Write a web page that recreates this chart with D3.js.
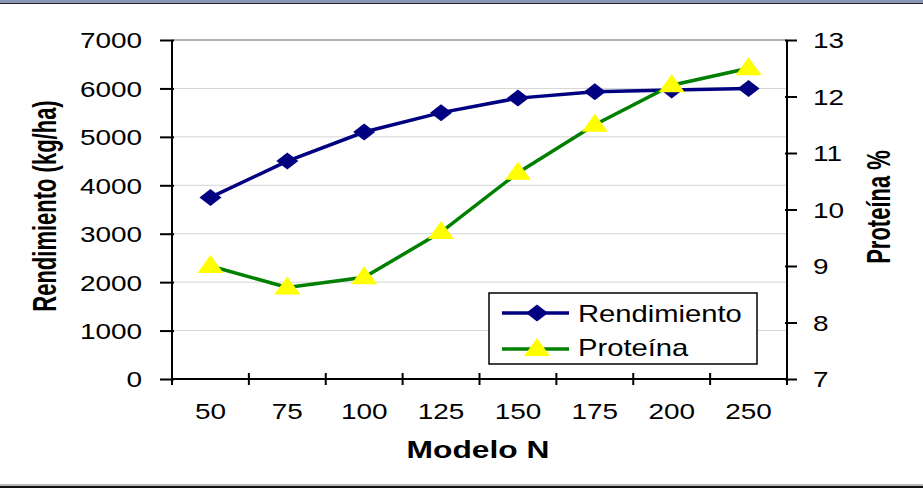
<!DOCTYPE html>
<html>
  <head>
    <script src="https://d3js.org/d3.v7.min.js"></script>
    <style>
      body { margin: 0; background: #fff; }
      text { font-family: "Liberation Sans", Arial, sans-serif; fill: #000; }
    </style>
  </head>
  <body>
    <svg id="chart" width="923" height="488"></svg>
    <script>
      var categories = ["50", "75", "100", "125", "150", "175", "200", "250"];
      var rendimiento = [3750, 4500, 5100, 5500, 5800, 5930, 5970, 6000];
      var proteina = [9.0, 8.62, 8.8, 9.6, 10.65, 11.5, 12.2, 12.5];
      var leftTicks = [0, 1000, 2000, 3000, 4000, 5000, 6000, 7000];
      var rightTicks = [7, 8, 9, 10, 11, 12, 13];

      var svg = d3.select("#chart");
      var pLeft = 172, pRight = 787, pTop = 40, pBottom = 379;
      var sx = 1.27; // text in the original is stretched sideways

      // frame lines top / bottom
      svg.append("rect").attr("x", 0).attr("y", 0).attr("width", 923).attr("height", 3).attr("fill", "#8a97b5");
      svg.append("line").attr("x1", 0).attr("x2", 923).attr("y1", 3.5).attr("y2", 3.5).attr("stroke", "#222").attr("stroke-width", 1);
      svg.append("line").attr("x1", 0).attr("x2", 923).attr("y1", 485).attr("y2", 485).attr("stroke", "#777").attr("stroke-width", 1);
      svg.append("rect").attr("x", 0).attr("y", 486).attr("width", 923).attr("height", 2).attr("fill", "#111");

      var x = d3.scaleBand().domain(categories).range([pLeft, pRight]);
      var yL = d3.scaleLinear().domain([0, 7000]).range([pBottom, pTop]);
      var yR = d3.scaleLinear().domain([7, 13]).range([pBottom, pTop]);

      // gridlines
      svg.append("g").selectAll("line").data(leftTicks.filter(function(d) { return d > 0; }))
        .enter().append("line")
        .attr("x1", pLeft).attr("x2", pRight)
        .attr("y1", function(d) { return yL(d); }).attr("y2", function(d) { return yL(d); })
        .attr("stroke", function(d) { return d == 7000 ? "#999" : "#d4d4d4"; })
        .attr("stroke-width", function(d) { return d == 7000 ? 1.5 : 1; });

      // axes
      var axL = svg.append("g").attr("transform", "translate(" + pLeft + ",0)")
        .call(d3.axisLeft(yL).tickValues(leftTicks).tickSize(12).tickFormat(d3.format("d")));
      var axR = svg.append("g").attr("transform", "translate(" + pRight + ",0)")
        .call(d3.axisRight(yR).tickValues(rightTicks).tickSize(10).tickFormat(d3.format("d")));
      var axB = svg.append("g").attr("transform", "translate(0," + pBottom + ")")
        .call(d3.axisBottom(x).tickSize(0));
      // category separators
      axB.selectAll(".sep").data(d3.range(categories.length + 1)).enter().append("line")
        .attr("x1", function(i) { return pLeft + i * x.step(); })
        .attr("x2", function(i) { return pLeft + i * x.step(); })
        .attr("y1", -6).attr("y2", 6)
        .attr("stroke", "#000").attr("stroke-width", 2);

      [axL, axR, axB].forEach(function(a) {
        a.selectAll(".domain").attr("stroke", "#000").attr("stroke-width", 2);
        a.selectAll(".tick line").attr("stroke", "#000").attr("stroke-width", 2);
        a.selectAll(".tick text").attr("font-size", 22).attr("fill", "#000")
          .style("font-family", "'Liberation Sans', Arial, sans-serif");
      });
      axL.selectAll(".tick line").attr("x1", 2);
      axR.selectAll(".tick line").attr("x1", -2);
      axL.select(".domain").attr("d", "M0," + pTop + "V" + (pBottom + 6));
      axR.select(".domain").attr("d", "M0," + pTop + "V" + (pBottom + 6));
      axB.select(".domain").attr("d", "M" + pLeft + ",0H" + pRight);

      axL.selectAll(".tick text").attr("x", 0).attr("dy", "0.36em")
        .attr("transform", "translate(-30,0) scale(" + sx + ",1)");
      axR.selectAll(".tick text").attr("x", 0).attr("dy", "0.36em")
        .attr("transform", "translate(26,0) scale(" + sx + ",1)");
      axB.selectAll(".tick text").attr("y", 0).attr("dy", 0)
        .attr("transform", "translate(0,40) scale(" + sx + ",1)");

      var cx = function(d, i) { return x(categories[i]) + x.bandwidth() / 2; };
      var diamond = "M0,-8.5L11,0L0,8.5L-11,0Z";
      var tri = "M0,-11L13,7L-13,7Z";

      // Rendimiento
      var lineL = d3.line().x(cx).y(function(d) { return yL(d); });
      svg.append("path").datum(rendimiento).attr("d", lineL)
        .attr("fill", "none").attr("stroke", "#000080").attr("stroke-width", 3.5);
      svg.append("g").selectAll("path").data(rendimiento).enter().append("path")
        .attr("d", diamond)
        .attr("transform", function(d, i) { return "translate(" + cx(d, i) + "," + yL(d) + ")"; })
        .attr("fill", "#000080");

      // Proteina
      var lineR = d3.line().x(cx).y(function(d) { return yR(d); });
      svg.append("path").datum(proteina).attr("d", lineR)
        .attr("fill", "none").attr("stroke", "#008000").attr("stroke-width", 3.5);
      svg.append("g").selectAll("path").data(proteina).enter().append("path")
        .attr("d", tri)
        .attr("transform", function(d, i) { return "translate(" + cx(d, i) + "," + yR(d) + ")"; })
        .attr("fill", "#ffff00");

      // axis titles
      svg.append("text").attr("transform", "translate(56,206) scale(1.55,1) rotate(-90)")
        .attr("text-anchor", "middle").attr("font-weight", "bold").attr("font-size", 22)
        .text("Rendimiento (kg/ha)");
      svg.append("text").attr("transform", "translate(890,207) scale(1.55,1) rotate(-90)")
        .attr("text-anchor", "middle").attr("font-weight", "bold").attr("font-size", 22)
        .text("Proteína %");
      svg.append("text").attr("transform", "translate(" + 478 + ",458) scale(1.38,1)")
        .attr("text-anchor", "middle").attr("font-weight", "bold").attr("font-size", 23)
        .text("Modelo N");

      // legend
      var lg = svg.append("g").attr("transform", "translate(489,293)");
      lg.append("rect").attr("width", 268).attr("height", 71)
        .attr("fill", "#fff").attr("stroke", "#000").attr("stroke-width", 1.5);
      lg.append("line").attr("x1", 13).attr("x2", 80).attr("y1", 20).attr("y2", 20)
        .attr("stroke", "#000080").attr("stroke-width", 3.5);
      lg.append("path").attr("d", diamond).attr("transform", "translate(48,20)").attr("fill", "#000080");
      lg.append("text").attr("transform", "translate(89,29) scale(" + sx + ",1)").attr("font-size", 23).text("Rendimiento");
      lg.append("line").attr("x1", 13).attr("x2", 80).attr("y1", 56).attr("y2", 56)
        .attr("stroke", "#008000").attr("stroke-width", 3.5);
      lg.append("path").attr("d", tri).attr("transform", "translate(48,56)").attr("fill", "#ffff00");
      lg.append("text").attr("transform", "translate(89,63) scale(" + sx + ",1)").attr("font-size", 23).text("Proteína");
    </script>
  </body>
</html>
